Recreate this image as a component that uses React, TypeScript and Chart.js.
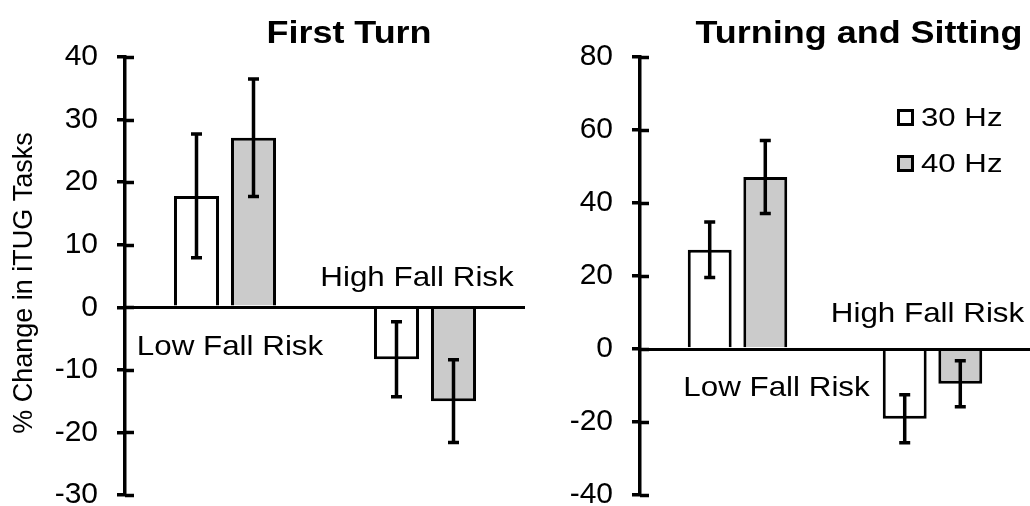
import React, { useEffect, useRef } from 'react';
import { Chart, registerables } from 'chart.js';

Chart.register(...registerables);

// ---- data ----
const categories = ['Low Fall Risk', 'High Fall Risk'];
const seriesNames = ['30 Hz', '40 Hz'];

const firstTurn30 = [17.8, -8.3];
const firstTurn30Err = [9.9, 6.0];
const firstTurn40 = [27.1, -15.0];
const firstTurn40Err = [9.4, 6.6];

const sitting30 = [27.2, -19.1];
const sitting30Err = [7.6, 6.6];
const sitting40 = [47.1, -9.5];
const sitting40Err = [10.0, 6.3];

const firstTurnTicks = [-30, -20, -10, 0, 10, 20, 30, 40];
const sittingTicks = [-40, -20, 0, 20, 40, 60, 80];

const FAMILY = '"Liberation Sans", Arial, Helvetica, sans-serif';

type PanelCfg = {
  title: string;
  d30: number[];
  e30: number[];
  d40: number[];
  e40: number[];
  ticks: number[];
  left: number;
  width: number;
  axisWidth: number;
  yTitle: string | null;
  legend: boolean;
  labelOffsets: { dx: number; dy: number }[];
};

const panels: PanelCfg[] = [
  {
    title: 'First Turn',
    d30: firstTurn30,
    e30: firstTurn30Err,
    d40: firstTurn40,
    e40: firstTurn40Err,
    ticks: firstTurnTicks,
    left: 0,
    width: 525,
    axisWidth: 125,
    yTitle: '% Change in iTUG Tasks',
    legend: false,
    labelOffsets: [
      { dx: 5, dy: 48 },
      { dx: -8, dy: -21 },
    ],
  },
  {
    title: 'Turning and Sitting',
    d30: sitting30,
    e30: sitting30Err,
    d40: sitting40,
    e40: sitting40Err,
    ticks: sittingTicks,
    left: 525,
    width: 505,
    axisWidth: 115,
    yTitle: null,
    legend: true,
    labelOffsets: [
      { dx: 39, dy: 46.5 },
      { dx: -5, dy: -27.5 },
    ],
  },
];

function drawText(
  ctx: CanvasRenderingContext2D,
  text: string,
  x: number,
  y: number,
  font: string,
  align: CanvasTextAlign,
  sx: number
) {
  ctx.save();
  ctx.font = font;
  ctx.fillStyle = '#000';
  ctx.textBaseline = 'alphabetic';
  ctx.textAlign = align;
  ctx.translate(x, y);
  ctx.scale(sx, 1);
  ctx.fillText(text, 0, 0);
  ctx.restore();
}

function Panel({ cfg }: { cfg: PanelCfg }) {
  const ref = useRef<HTMLCanvasElement>(null);

  useEffect(() => {
    const errs = [cfg.e30, cfg.e40];
    const fills = ['#ffffff', '#cbcbcb'];

    const decorations = {
      id: 'decorations',
      afterDatasetsDraw(chart: any) {
        const ctx: CanvasRenderingContext2D = chart.ctx;
        const ys = chart.scales.y;
        const xs = chart.scales.x;
        const area = chart.chartArea;
        ctx.save();
        ctx.strokeStyle = '#000';
        ctx.lineWidth = 3.5;
        ctx.lineCap = 'butt';
        // inner half of crossing tick marks
        ys.ticks.forEach((t: any) => {
          const py = Math.round(ys.getPixelForValue(t.value)) + 0.5;
          ctx.beginPath();
          ctx.moveTo(area.left, py);
          ctx.lineTo(area.left + 9, py);
          ctx.stroke();
        });
        // error bars
        for (let d = 0; d < 2; d++) {
          const meta = chart.getDatasetMeta(d);
          const vals = chart.data.datasets[d].data as number[];
          meta.data.forEach((el: any, j: number) => {
            const x = el.x;
            const top = ys.getPixelForValue(vals[j] + errs[d][j]);
            const bot = ys.getPixelForValue(vals[j] - errs[d][j]);
            ctx.beginPath();
            ctx.moveTo(x, top);
            ctx.lineTo(x, bot);
            ctx.moveTo(x - 5.5, top);
            ctx.lineTo(x + 5.5, top);
            ctx.moveTo(x - 5.5, bot);
            ctx.lineTo(x + 5.5, bot);
            ctx.stroke();
          });
        }
        ctx.restore();

        // title
        drawText(
          ctx,
          cfg.title,
          (area.left + area.right) / 2 + 24,
          43,
          `bold 31px ${FAMILY}`,
          'center',
          1.16
        );

        // y axis title
        if (cfg.yTitle) {
          ctx.save();
          ctx.font = `27px ${FAMILY}`;
          ctx.fillStyle = '#000';
          ctx.textAlign = 'center';
          ctx.textBaseline = 'alphabetic';
          ctx.translate(32, (area.top + area.bottom) / 2 + 7);
          ctx.rotate(-Math.PI / 2);
          ctx.fillText(cfg.yTitle, 0, 0);
          ctx.restore();
        }

        // category labels
        const zero = ys.getPixelForValue(0);
        categories.forEach((c, j) => {
          const off = cfg.labelOffsets[j];
          drawText(
            ctx,
            c,
            xs.getPixelForValue(j) + off.dx,
            zero + off.dy,
            `28px ${FAMILY}`,
            'center',
            1.12
          );
        });

        // legend
        if (cfg.legend) {
          const x0 = area.right - 133;
          seriesNames.forEach((name, i) => {
            const y0 = area.top + 52 + i * 46;
            ctx.save();
            ctx.fillStyle = fills[i];
            ctx.fillRect(x0, y0, 17, 17);
            ctx.strokeStyle = '#000';
            ctx.lineWidth = 3;
            ctx.strokeRect(x0 + 1.5, y0 + 1.5, 14, 14);
            ctx.restore();
            drawText(ctx, name, x0 + 24, y0 + 17, `26px ${FAMILY}`, 'left', 1.2);
          });
        }
      },
    };

    const chart = new Chart(ref.current as HTMLCanvasElement, {
      type: 'bar',
      data: {
        labels: categories,
        datasets: [
          {
            label: seriesNames[0],
            data: cfg.d30,
            backgroundColor: fills[0],
            borderColor: '#000',
            borderWidth: 3,
            borderSkipped: 'start',
            categoryPercentage: 0.57,
            barPercentage: 0.79,
          },
          {
            label: seriesNames[1],
            data: cfg.d40,
            backgroundColor: fills[1],
            borderColor: '#000',
            borderWidth: 3,
            borderSkipped: 'start',
            categoryPercentage: 0.57,
            barPercentage: 0.79,
          },
        ],
      },
      options: {
        responsive: false,
        animation: false,
        devicePixelRatio: 1,
        layout: { padding: { left: 0, right: 0, top: 57, bottom: 11 } },
        plugins: {
          legend: { display: false },
          title: { display: false },
          tooltip: { enabled: false },
        },
        scales: {
          x: {
            position: { y: 0 } as any,
            grid: { display: false },
            ticks: { display: false },
            border: { display: true, color: '#000', width: 3, z: 1 } as any,
          },
          y: {
            min: cfg.ticks[0],
            max: cfg.ticks[cfg.ticks.length - 1],
            ticks: {
              stepSize: cfg.ticks[1] - cfg.ticks[0],
              color: '#000',
              padding: 19,
              font: { family: FAMILY, size: 30 },
            },
            grid: {
              drawOnChartArea: false,
              drawTicks: true,
              tickLength: 8,
              lineWidth: 3.5,
              color: '#000',
            },
            border: { display: true, color: '#000', width: 3.5 },
            afterFit: (s: any) => {
              s.width = cfg.axisWidth;
              s.paddingTop = 0;
              s.paddingBottom = 0;
            },
          },
        },
      },
      plugins: [decorations],
    });
    return () => chart.destroy();
  }, []);

  return (
    <canvas
      ref={ref}
      width={cfg.width}
      height={506}
      style={{ position: 'absolute', left: cfg.left, top: 0, width: cfg.width, height: 506 }}
    />
  );
}

export default function App() {
  return (
    <div
      style={{
        position: 'absolute',
        left: 0,
        top: 0,
        width: 1030,
        height: 506,
        background: '#ffffff',
        overflow: 'hidden',
      }}
    >
      {panels.map((p) => (
        <Panel key={p.title} cfg={p} />
      ))}
    </div>
  );
}
